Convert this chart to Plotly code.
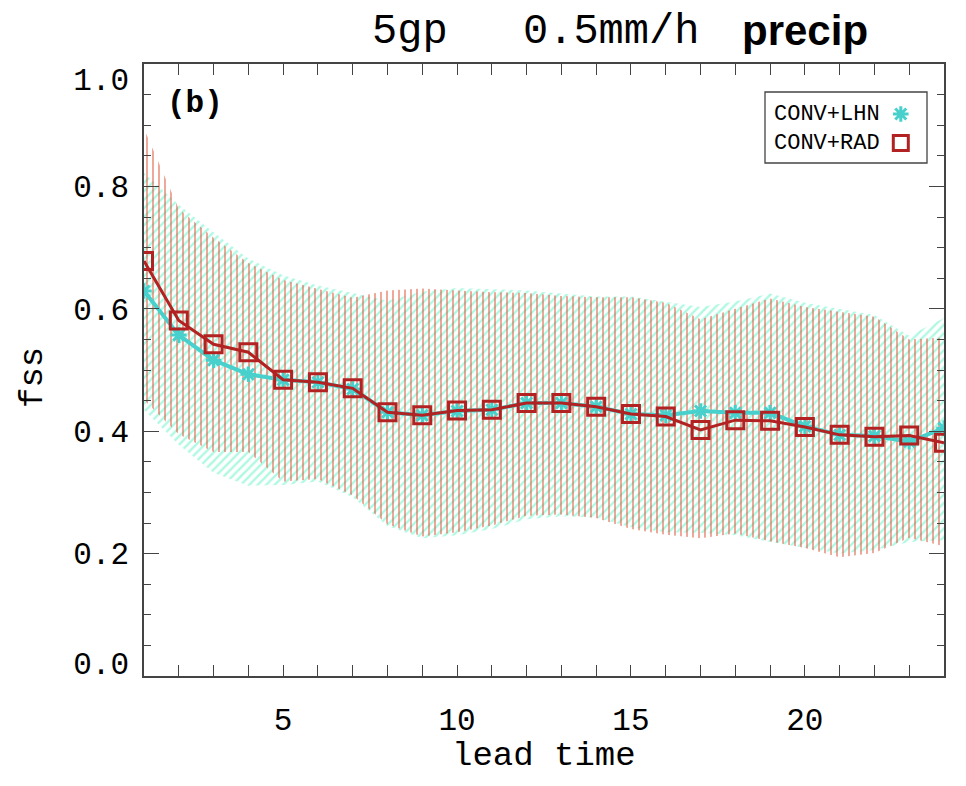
import plotly.graph_objects as go

lead_time = list(range(1, 25))

lhn_fss = [0.629, 0.557, 0.516, 0.493, 0.484, 0.480, 0.469, 0.431, 0.426, 0.433, 0.435, 0.446,
           0.446, 0.440, 0.428, 0.426, 0.433, 0.430, 0.430, 0.408, 0.394, 0.392, 0.383, 0.405]
rad_fss = [0.678, 0.581, 0.542, 0.529, 0.484, 0.480, 0.470, 0.431, 0.426, 0.434, 0.435, 0.446,
           0.446, 0.440, 0.428, 0.424, 0.402, 0.418, 0.417, 0.407, 0.394, 0.391, 0.393, 0.381]

lhn_upper = [0.822, 0.770, 0.725, 0.682, 0.655, 0.638, 0.626, 0.613, 0.628, 0.634, 0.632, 0.630,
             0.625, 0.620, 0.620, 0.612, 0.603, 0.612, 0.625, 0.610, 0.600, 0.590, 0.556, 0.585]
lhn_lower = [0.435, 0.378, 0.332, 0.311, 0.312, 0.318, 0.292, 0.245, 0.225, 0.230, 0.240, 0.256,
             0.261, 0.259, 0.243, 0.235, 0.234, 0.230, 0.219, 0.209, 0.200, 0.206, 0.219, 0.222]
rad_upper = [0.894, 0.763, 0.716, 0.675, 0.647, 0.632, 0.618, 0.630, 0.633, 0.630, 0.627, 0.626,
             0.621, 0.619, 0.619, 0.610, 0.583, 0.600, 0.617, 0.603, 0.595, 0.587, 0.550, 0.553]
rad_lower = [0.451, 0.395, 0.366, 0.366, 0.318, 0.322, 0.295, 0.248, 0.228, 0.235, 0.246, 0.262,
             0.264, 0.258, 0.240, 0.231, 0.225, 0.233, 0.220, 0.209, 0.194, 0.201, 0.226, 0.212]

x_ticks = [5, 10, 15, 20]
y_ticks = [0.0, 0.2, 0.4, 0.6, 0.8, 1.0]
y_tick_text = ["0.0", "0.2", "0.4", "0.6", "0.8", "1.0"]
# label anchor positions (end labels sit slightly inside the axis range)
y_label_pos = [0.021, 0.2, 0.4, 0.6, 0.8, 0.976]

CYAN_LINE = "#48D1CC"
CYAN_HATCH = "#5ff2c6"
RED_LINE = "#B22222"
RED_HATCH = "#dc4a2c"
MONO = "Liberation Mono, Courier New, monospace"

fig = go.Figure()

# CONV+LHN band (diagonal hatch)
fig.add_trace(go.Scatter(x=lead_time, y=lhn_lower, mode="lines", line=dict(width=0),
                         showlegend=False, hoverinfo="skip"))
fig.add_trace(go.Scatter(x=lead_time, y=lhn_upper, mode="lines", line=dict(width=0),
                         fill="tonexty", fillcolor="rgba(0,0,0,0)",
                         fillpattern=dict(shape="/", fgcolor=CYAN_HATCH, size=6, solidity=0.4),
                         showlegend=False, hoverinfo="skip"))
# CONV+RAD band (vertical hatch)
fig.add_trace(go.Scatter(x=lead_time, y=rad_lower, mode="lines", line=dict(width=0),
                         showlegend=False, hoverinfo="skip"))
fig.add_trace(go.Scatter(x=lead_time, y=rad_upper, mode="lines", line=dict(width=0),
                         fill="tonexty", fillcolor="rgba(0,0,0,0)",
                         fillpattern=dict(shape="|", fgcolor=RED_HATCH, size=6, solidity=0.32),
                         showlegend=False, hoverinfo="skip"))

fig.add_trace(go.Scatter(x=lead_time, y=lhn_fss, mode="lines+markers", name="CONV+LHN",
                         line=dict(color=CYAN_LINE, width=4),
                         marker=dict(symbol="asterisk-open", size=13, color=CYAN_LINE,
                                     line=dict(color=CYAN_LINE, width=3)),
                         showlegend=False))
fig.add_trace(go.Scatter(x=lead_time, y=rad_fss, mode="lines+markers", name="CONV+RAD",
                         line=dict(color=RED_LINE, width=3),
                         marker=dict(symbol="square-open", size=17, color=RED_LINE,
                                     line=dict(color=RED_LINE, width=3)),
                         showlegend=False))

# legend symbols on an overlay axis
fig.add_trace(go.Scatter(x=[0.946], y=[(676 - 114) / 612], xaxis="x2", yaxis="y2",
                         mode="markers",
                         marker=dict(symbol="asterisk-open", size=13, color=CYAN_LINE,
                                     line=dict(color=CYAN_LINE, width=3)),
                         showlegend=False, hoverinfo="skip"))
fig.add_trace(go.Scatter(x=[0.946], y=[(676 - 143) / 612], xaxis="x2", yaxis="y2",
                         mode="markers",
                         marker=dict(symbol="square-open", size=15, color=RED_LINE,
                                     line=dict(color=RED_LINE, width=3)),
                         showlegend=False, hoverinfo="skip"))

axis_common = dict(showline=True, linecolor="#444", linewidth=1.5, mirror="allticks",
                   ticks="inside", tickcolor="#444", showgrid=False, zeroline=False)

# page body has an 8px margin; figure is sized so that it fits the 966x786 window
fig.update_layout(
    width=950, height=770,
    margin=dict(l=136, r=14, t=56, b=102),
    paper_bgcolor="white", plot_bgcolor="white",
    xaxis=dict(range=[1, 24], tickvals=x_ticks, ticklen=11, tickwidth=1.3,
               minor=dict(dtick=1, ticklen=5, tickcolor="#444", ticks="inside"),
               tickfont=dict(family=MONO, size=31, color="black"),
               ticklabelstandoff=15, **axis_common),
    yaxis=dict(range=[0, 1.0], tickvals=y_ticks, showticklabels=False,
               ticklen=15, tickwidth=1.3,
               minor=dict(dtick=0.05, ticklen=7, tickcolor="#444", ticks="inside"),
               **axis_common),
    yaxis3=dict(range=[0, 1.0], overlaying="y", side="left", tickvals=y_label_pos,
                ticktext=y_tick_text, ticks="", showline=False, showgrid=False,
                zeroline=False, tickfont=dict(family=MONO, size=31, color="black"),
                ticklabelstandoff=14),
    xaxis2=dict(range=[0, 1], overlaying="x", visible=False),
    yaxis2=dict(range=[0, 1], overlaying="y", visible=False),
    showlegend=False,
)
# invisible trace to activate the label axis
fig.add_trace(go.Scatter(x=[None], y=[None], yaxis="y3", showlegend=False, hoverinfo="skip"))

def px_x(p):
    return (p - 144) / 800

def px_y(p):
    return (676 - p) / 612

annotations = [
    dict(text="5gp", x=px_x(370), y=px_y(32), xanchor="left", yanchor="middle",
         font=dict(family=MONO, size=42, color="black")),
    dict(text="0.5mm/h", x=px_x(521), y=px_y(32), xanchor="left", yanchor="middle",
         font=dict(family=MONO, size=42, color="black")),
    dict(text="<b>precip</b>", x=px_x(740), y=px_y(31), xanchor="left", yanchor="middle",
         font=dict(family="Liberation Sans, Arial, sans-serif", size=42, color="black")),
    dict(text="<b>(b)</b>", x=px_x(165), y=px_y(103), xanchor="left", yanchor="middle",
         font=dict(family=MONO, size=31, color="black")),
    dict(text="lead time", x=px_x(544), y=px_y(756), xanchor="center", yanchor="middle",
         font=dict(family=MONO, size=34, color="black")),
    dict(text="fss", x=px_x(33), y=px_y(377), xanchor="center", yanchor="middle", textangle=-90,
         font=dict(family=MONO, size=34, color="black")),
    dict(text="CONV+LHN", x=px_x(772), y=px_y(114), xanchor="left", yanchor="middle",
         font=dict(family=MONO, size=22, color="black")),
    dict(text="CONV+RAD", x=px_x(772), y=px_y(143), xanchor="left", yanchor="middle",
         font=dict(family=MONO, size=22, color="black")),
]
for a in annotations:
    a.update(xref="paper", yref="paper", showarrow=False)
fig.update_layout(annotations=annotations)

fig.add_shape(type="rect", xref="paper", yref="paper",
              x0=px_x(765), x1=px_x(927), y0=px_y(163), y1=px_y(92),
              line=dict(color="#444", width=1.3), fillcolor="rgba(0,0,0,0)", layer="above")

fig.write_html("out.html")
